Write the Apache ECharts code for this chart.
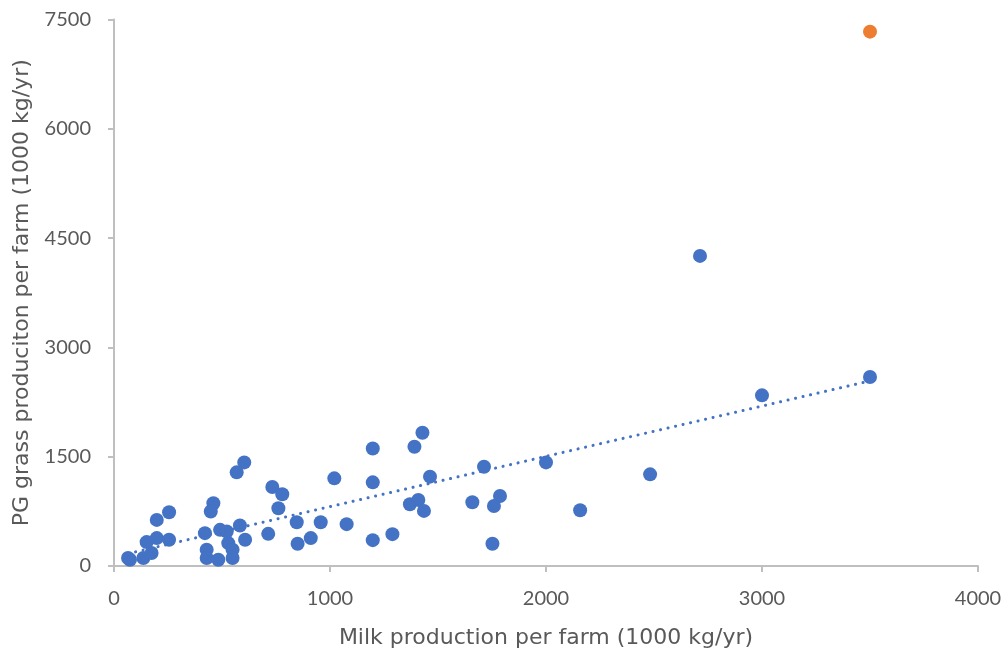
<!DOCTYPE html>
<html>
<head>
<meta charset="utf-8">
<script src="https://cdn.jsdelivr.net/npm/echarts@6/dist/echarts.min.js"></script>
<style>
  html, body { margin: 0; padding: 0; background: #ffffff; }
  #chart { width: 1005px; height: 654px; }
</style>
</head>
<body>
<div id="chart"></div>
<script>
// Milk production per farm (1000 kg/yr), x values
const milkProduction = [
  74, 65, 136, 174, 151, 198, 255, 198, 255,
  429, 429, 421, 483, 491, 522, 529, 549, 549, 460, 448, 583, 607, 568, 603,
  714, 733, 779, 761, 846, 850, 911, 957, 1020, 1077, 1198, 1198, 1198, 1289,
  1391, 1428, 1370, 1409, 1435, 1463, 1659, 1713, 1787, 1759, 1752,
  2000, 2158, 2482, 2713, 3000, 3500
];
// PG grass production per farm (1000 kg/yr), y values
const grassProduction = [
  86, 110, 109, 178, 328, 383, 360, 633, 738,
  223, 109, 451, 86, 496, 474, 314, 223, 109, 861, 747, 556, 360, 1285, 1422,
  441, 1084, 984, 793, 601, 305, 383, 601, 1203, 574, 1613, 1148, 355, 437,
  1636, 1828, 847, 907, 756, 1226, 875, 1363, 961, 824, 305,
  1422, 765, 1258, 4256, 2342, 2593
];
// Highlighted farm
const highlightMilk = [3500];
const highlightGrass = [7333];

const xTicks = [0, 1000, 2000, 3000, 4000];
const yTicks = [0, 1500, 3000, 4500, 6000, 7500];

const pts = milkProduction.map((x, i) => [x, grassProduction[i]]);
const hiPts = highlightMilk.map((x, i) => [x, highlightGrass[i]]);

// Least-squares linear trend of the main series
const n = pts.length;
const mx = pts.reduce((s, p) => s + p[0], 0) / n;
const my = pts.reduce((s, p) => s + p[1], 0) / n;
let sxy = 0, sxx = 0;
pts.forEach(p => { sxy += (p[0] - mx) * (p[1] - my); sxx += (p[0] - mx) * (p[0] - mx); });
const slope = sxy / sxx;
const intercept = my - slope * mx;
const xMin = Math.min(...milkProduction);
const xMax = Math.max(...milkProduction);
const trend = [[xMin, intercept + slope * xMin], [xMax, intercept + slope * xMax]];

const TITLE_FONT = '"DejaVu Sans", sans-serif';
const TICK_FONT = 'Lato, "Liberation Sans", sans-serif';
const TXT = '#595959';
const AXC = '#bfbfbf';

const chart = echarts.init(document.getElementById('chart'), null, { renderer: 'canvas' });
chart.setOption({
  animation: false,
  backgroundColor: '#ffffff',
  grid: { left: 114, right: 27, top: 19.5, bottom: 86, containLabel: false },
  xAxis: {
    type: 'value',
    min: xTicks[0], max: xTicks[xTicks.length - 1], interval: 1000,
    name: 'Milk production per farm (1000 kg/yr)',
    nameLocation: 'middle', nameGap: 61,
    nameTextStyle: { color: TXT, fontSize: 22, fontFamily: TITLE_FONT },
    axisLine: { show: true, onZero: false, lineStyle: { color: AXC, width: 2 } },
    axisTick: { show: true, length: 6, lineStyle: { color: AXC, width: 2 } },
    axisLabel: { color: TXT, fontSize: 20, fontFamily: TICK_FONT, margin: 23, formatter: v => String(v) },
    splitLine: { show: false }
  },
  yAxis: {
    type: 'value',
    min: yTicks[0], max: yTicks[yTicks.length - 1], interval: 1500,
    name: 'PG grass produciton per farm (1000 kg/yr)',
    nameLocation: 'middle', nameGap: 80, nameRotate: 90,
    nameTextStyle: { color: TXT, fontSize: 22, fontFamily: TITLE_FONT },
    axisLine: { show: true, lineStyle: { color: AXC, width: 2 } },
    axisTick: { show: true, length: 6, lineStyle: { color: AXC, width: 2 } },
    axisLabel: { color: TXT, fontSize: 20, fontFamily: TICK_FONT, margin: 23, formatter: v => String(v) },
    splitLine: { show: false }
  },
  series: [
    {
      type: 'line',
      data: trend,
      symbol: 'none',
      silent: true,
      z: 3,
      lineStyle: { color: '#4472C4', width: 3, type: [0.1, 7.6], cap: 'round' }
    },
    {
      type: 'scatter',
      data: pts,
      symbolSize: 14,
      z: 2,
      itemStyle: { color: '#4472C4', opacity: 1 }
    },
    {
      type: 'scatter',
      data: hiPts,
      symbolSize: 14,
      z: 2,
      itemStyle: { color: '#ED7D31', opacity: 1 }
    }
  ]
});
</script>
</body>
</html>
